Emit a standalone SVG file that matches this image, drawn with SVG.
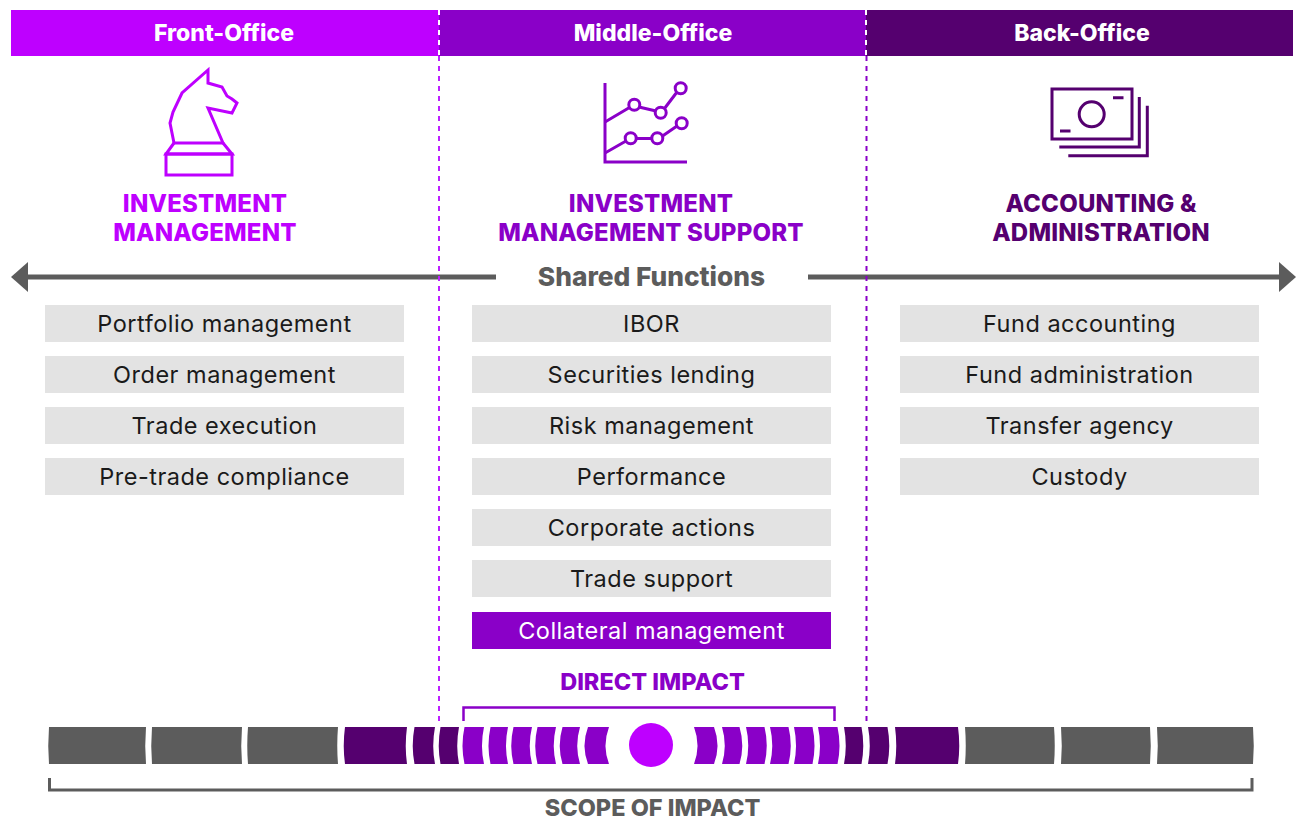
<svg xmlns="http://www.w3.org/2000/svg" width="1296" height="823" viewBox="0 0 1296 823">
<defs>
<style>
.hdr{font-family:Inter,"Liberation Sans",sans-serif;font-weight:800;font-size:23px;fill:#fff;text-anchor:middle}
.ttl{font-family:Inter,"Liberation Sans",sans-serif;font-weight:800;font-size:24px;text-anchor:middle;letter-spacing:0.2px}
.box{fill:#e3e3e3}
.bt{font-family:Inter,"Liberation Sans",sans-serif;font-size:23.5px;fill:#1a1a1a;text-anchor:middle;letter-spacing:0.5px}
.ico{fill:none;stroke-width:3;stroke-linejoin:miter;stroke-linecap:butt}
.gray{fill:#5c5c5c}
.dk{fill:#55006f}
.md{fill:#8a00c8}
.lbl{font-family:Inter,"Liberation Sans",sans-serif;font-weight:800;text-anchor:middle}
</style>
<marker id="ah" viewBox="0 0 17 30" refX="0" refY="15" markerWidth="17" markerHeight="30" markerUnits="userSpaceOnUse" orient="auto">
<path d="M0,0 L17,15 L0,30 Z" fill="#5c5c5c"/>
</marker>
</defs>
<rect width="1296" height="823" fill="#fff"/>

<g id="header">
<rect x="11" y="10" width="428" height="46" fill="#be00ff"/>
<rect x="439" y="10" width="427" height="46" fill="#8a00c8"/>
<rect x="866" y="10" width="427" height="46" fill="#55006f"/>
<line x1="439" y1="10" x2="439" y2="56" stroke="#fff" stroke-width="2" stroke-dasharray="5 5"/>
<line x1="866" y1="10" x2="866" y2="56" stroke="#fff" stroke-width="2" stroke-dasharray="5 5"/>
<text class="hdr" x="224" y="41">Front-Office</text>
<text class="hdr" x="653" y="41">Middle-Office</text>
<text class="hdr" x="1082" y="41">Back-Office</text>
</g>

<g id="front-office">
<g class="ico" stroke="#be00ff">
<path d="M208,70 L208,83 L222,87 L227,96 L232,99 L237,103 L232,113 L208,108 L223,143 L174,143 L170,123 L173,112 L182,93 Z"/>
<path d="M174,143 L166,154 H232 L223,143"/>
<rect x="166" y="154" width="66" height="21"/>
</g>
<text class="ttl" fill="#be00ff" x="205" y="212">INVESTMENT</text>
<text class="ttl" fill="#be00ff" x="205" y="241">MANAGEMENT</text>
<g id="fo-items">
<rect class="box" x="45" y="305" width="359" height="37"/><text class="bt" x="224.5" y="332">Portfolio management</text>
<rect class="box" x="45" y="356" width="359" height="37"/><text class="bt" x="224.5" y="383">Order management</text>
<rect class="box" x="45" y="407" width="359" height="37"/><text class="bt" x="224.5" y="434">Trade execution</text>
<rect class="box" x="45" y="458" width="359" height="37"/><text class="bt" x="224.5" y="485">Pre-trade compliance</text>
</g>
</g>

<g id="middle-office">
<g class="ico" stroke="#8a00c8">
<path d="M605,83 V162 H687"/>
<path d="M605,122 L629.5,107.5 M639,107 L656,111 M664.5,108.5 L677,92"/>
<path d="M605,153 L626,141 M636,138.5 H652 M662.5,136 L677,126"/>
<circle cx="634.3" cy="104.7" r="5.5"/>
<circle cx="660.7" cy="112.7" r="5.5"/>
<circle cx="680.7" cy="88.3" r="5.5"/>
<circle cx="630.7" cy="138.3" r="5.5"/>
<circle cx="657.3" cy="138.3" r="5.5"/>
<circle cx="681.7" cy="123.3" r="5.5"/>
</g>
<text class="ttl" fill="#8a00c8" x="651" y="212">INVESTMENT</text>
<text class="ttl" fill="#8a00c8" x="651" y="241">MANAGEMENT SUPPORT</text>
<g id="mo-items">
<rect class="box" x="472" y="305" width="359" height="37"/><text class="bt" x="651.5" y="332">IBOR</text>
<rect class="box" x="472" y="356" width="359" height="37"/><text class="bt" x="651.5" y="383">Securities lending</text>
<rect class="box" x="472" y="407" width="359" height="37"/><text class="bt" x="651.5" y="434">Risk management</text>
<rect class="box" x="472" y="458" width="359" height="37"/><text class="bt" x="651.5" y="485">Performance</text>
<rect class="box" x="472" y="509" width="359" height="37"/><text class="bt" x="651.5" y="536">Corporate actions</text>
<rect class="box" x="472" y="560" width="359" height="37"/><text class="bt" x="651.5" y="587">Trade support</text>
<rect x="472" y="612" width="359" height="37" fill="#8a00c8"/><text class="bt" x="651.5" y="639" style="fill:#fff">Collateral management</text>
</g>
</g>

<g id="back-office">
<g class="ico" stroke="#55006f">
<rect x="1052" y="89" width="80" height="50"/>
<circle cx="1091.7" cy="114.3" r="12.5"/>
<path d="M1113,97.7 H1123.5 M1060,131 H1070.5"/>
<path d="M1059.3,147 H1139.3 V97"/>
<path d="M1068.3,155.7 H1147.3 V105.7"/>
</g>
<text class="ttl" fill="#55006f" x="1101" y="212">ACCOUNTING &amp;</text>
<text class="ttl" fill="#55006f" x="1101" y="241">ADMINISTRATION</text>
<g id="bo-items">
<rect class="box" x="900" y="305" width="359" height="37"/><text class="bt" x="1079.5" y="332">Fund accounting</text>
<rect class="box" x="900" y="356" width="359" height="37"/><text class="bt" x="1079.5" y="383">Fund administration</text>
<rect class="box" x="900" y="407" width="359" height="37"/><text class="bt" x="1079.5" y="434">Transfer agency</text>
<rect class="box" x="900" y="458" width="359" height="37"/><text class="bt" x="1079.5" y="485">Custody</text>
</g>
</g>

<g id="connectors">
<line x1="496" y1="277" x2="28" y2="277" stroke="#5c5c5c" stroke-width="5" marker-end="url(#ah)"/>
<line x1="808" y1="277" x2="1279" y2="277" stroke="#5c5c5c" stroke-width="5" marker-end="url(#ah)"/>
</g>
<text id="shared" class="lbl" x="651.5" y="286" font-size="26.3" fill="#5c5c5c">Shared Functions</text>

<g id="dividers">
<line x1="439" y1="56" x2="439" y2="725" stroke="#bb20ff" stroke-width="2" stroke-dasharray="5 5"/>
<line x1="866.5" y1="56" x2="866.5" y2="725" stroke="#8a00c8" stroke-width="2" stroke-dasharray="5 5"/>
</g>

<g id="direct-impact">
<text class="lbl" x="652.5" y="690" font-size="23.5" fill="#8a00c8">DIRECT IMPACT</text>
<path d="M463.5,721 V707.5 H834.5 V721" fill="none" stroke="#8a00c8" stroke-width="2.5"/>
</g>

<g id="scope-bar">
<path class="gray" d="M49,727 Q47.5,745.5 49,764 H146 Q144.5,745.5 146,727 Z"/>
<path class="gray" d="M152,727 Q150.5,745.5 152,764 H242 Q240.5,745.5 242,727 Z"/>
<path class="gray" d="M248,727 Q246.5,745.5 248,764 H338 Q336.5,745.5 338,727 Z"/>
<path class="dk" d="M345,727 Q342.5,745.5 345,764 H407 Q404.5,745.5 407,727 Z"/>
<path class="dk" d="M414.5,727 Q411,745.5 414.5,764 H435 Q431.5,745.5 435,727 Z"/>
<path class="dk" d="M440.5,727 Q437,745.5 440.5,764 H459 Q455.5,745.5 459,727 Z"/>
<path class="md" d="M464.5,727 Q460.5,745.5 464.5,764 H484 Q480,745.5 484,727 Z"/>
<path class="md" d="M490.5,727 Q486.5,745.5 490.5,764 H508 Q504,745.5 508,727 Z"/>
<path class="md" d="M513.5,727 Q509,745.5 513.5,764 H532 Q527.5,745.5 532,727 Z"/>
<path class="md" d="M537.5,727 Q533,745.5 537.5,764 H556 Q551.5,745.5 556,727 Z"/>
<path class="md" d="M562.5,727 Q557,745.5 562.5,764 H580 Q574.5,745.5 580,727 Z"/>
<path class="md" d="M588,727 Q581,745.5 588,764 H609 Q602,745.5 609,727 Z"/>
<circle cx="651" cy="745" r="22" fill="#be00ff"/>
<path class="md" d="M694,727 Q701,745.5 694,764 H714 Q721,745.5 714,727 Z"/>
<path class="md" d="M722,727 Q727.5,745.5 722,764 H739.5 Q745,745.5 739.5,727 Z"/>
<path class="md" d="M746,727 Q750.5,745.5 746,764 H764.5 Q769,745.5 764.5,727 Z"/>
<path class="md" d="M770,727 Q774.5,745.5 770,764 H788.5 Q793,745.5 788.5,727 Z"/>
<path class="md" d="M794,727 Q798,745.5 794,764 H812.5 Q816.5,745.5 812.5,727 Z"/>
<path class="md" d="M818,727 Q822,745.5 818,764 H837.5 Q841.5,745.5 837.5,727 Z"/>
<path class="dk" d="M844,727 Q847.5,745.5 844,764 H861.5 Q865,745.5 861.5,727 Z"/>
<path class="dk" d="M868,727 Q871.5,745.5 868,764 H887.5 Q891,745.5 887.5,727 Z"/>
<path class="dk" d="M895,727 Q897.5,745.5 895,764 H958 Q960.5,745.5 958,727 Z"/>
<path class="gray" d="M965,727 Q966.5,745.5 965,764 H1054 Q1055.5,745.5 1054,727 Z"/>
<path class="gray" d="M1061,727 Q1062.5,745.5 1061,764 H1150 Q1151.5,745.5 1150,727 Z"/>
<path class="gray" d="M1157,727 Q1158.5,745.5 1157,764 H1253 Q1254.5,745.5 1253,727 Z"/>
</g>

<g id="scope-of-impact">
<path d="M49.5,778 V790 H1252 V778" fill="none" stroke="#5c5c5c" stroke-width="3"/>
<text class="lbl" x="652.5" y="816" font-size="23.5" fill="#5c5c5c">SCOPE OF IMPACT</text>
</g>
</svg>
